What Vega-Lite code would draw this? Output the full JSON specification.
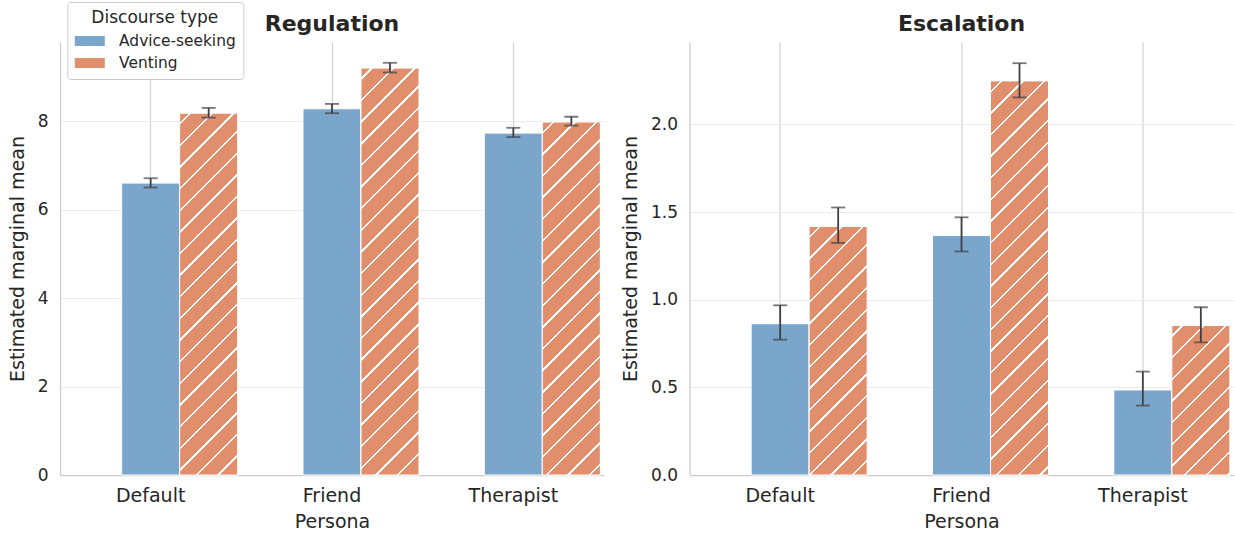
{
  "$schema": "https://vega.github.io/schema/vega-lite/v6.json",
  "background": "white",
  "padding": {"left": 8, "top": 1, "right": 0, "bottom": 0},
  "spacing": 16.5,
  "config": {"font": "DejaVu Sans", "view": {"stroke": null}},
  "params": [
    {"name": "hs", "value": [
      {"offset": 0, "color": "#e08e6b"},
      {"offset": 0.020, "color": "#e08e6b"}, {"offset": 0.020, "color": "#ffffff"}, {"offset": 0.025, "color": "#ffffff"}, {"offset": 0.025, "color": "#e08e6b"},
      {"offset": 0.065, "color": "#e08e6b"}, {"offset": 0.065, "color": "#ffffff"}, {"offset": 0.070, "color": "#ffffff"}, {"offset": 0.070, "color": "#e08e6b"},
      {"offset": 0.110, "color": "#e08e6b"}, {"offset": 0.110, "color": "#ffffff"}, {"offset": 0.115, "color": "#ffffff"}, {"offset": 0.115, "color": "#e08e6b"},
      {"offset": 0.155, "color": "#e08e6b"}, {"offset": 0.155, "color": "#ffffff"}, {"offset": 0.160, "color": "#ffffff"}, {"offset": 0.160, "color": "#e08e6b"},
      {"offset": 0.200, "color": "#e08e6b"}, {"offset": 0.200, "color": "#ffffff"}, {"offset": 0.205, "color": "#ffffff"}, {"offset": 0.205, "color": "#e08e6b"},
      {"offset": 0.245, "color": "#e08e6b"}, {"offset": 0.245, "color": "#ffffff"}, {"offset": 0.250, "color": "#ffffff"}, {"offset": 0.250, "color": "#e08e6b"},
      {"offset": 0.290, "color": "#e08e6b"}, {"offset": 0.290, "color": "#ffffff"}, {"offset": 0.295, "color": "#ffffff"}, {"offset": 0.295, "color": "#e08e6b"},
      {"offset": 0.335, "color": "#e08e6b"}, {"offset": 0.335, "color": "#ffffff"}, {"offset": 0.340, "color": "#ffffff"}, {"offset": 0.340, "color": "#e08e6b"},
      {"offset": 0.380, "color": "#e08e6b"}, {"offset": 0.380, "color": "#ffffff"}, {"offset": 0.385, "color": "#ffffff"}, {"offset": 0.385, "color": "#e08e6b"},
      {"offset": 0.425, "color": "#e08e6b"}, {"offset": 0.425, "color": "#ffffff"}, {"offset": 0.430, "color": "#ffffff"}, {"offset": 0.430, "color": "#e08e6b"},
      {"offset": 0.470, "color": "#e08e6b"}, {"offset": 0.470, "color": "#ffffff"}, {"offset": 0.475, "color": "#ffffff"}, {"offset": 0.475, "color": "#e08e6b"},
      {"offset": 0.515, "color": "#e08e6b"}, {"offset": 0.515, "color": "#ffffff"}, {"offset": 0.520, "color": "#ffffff"}, {"offset": 0.520, "color": "#e08e6b"},
      {"offset": 0.560, "color": "#e08e6b"}, {"offset": 0.560, "color": "#ffffff"}, {"offset": 0.565, "color": "#ffffff"}, {"offset": 0.565, "color": "#e08e6b"},
      {"offset": 0.605, "color": "#e08e6b"}, {"offset": 0.605, "color": "#ffffff"}, {"offset": 0.610, "color": "#ffffff"}, {"offset": 0.610, "color": "#e08e6b"},
      {"offset": 0.650, "color": "#e08e6b"}, {"offset": 0.650, "color": "#ffffff"}, {"offset": 0.655, "color": "#ffffff"}, {"offset": 0.655, "color": "#e08e6b"},
      {"offset": 0.695, "color": "#e08e6b"}, {"offset": 0.695, "color": "#ffffff"}, {"offset": 0.700, "color": "#ffffff"}, {"offset": 0.700, "color": "#e08e6b"},
      {"offset": 0.740, "color": "#e08e6b"}, {"offset": 0.740, "color": "#ffffff"}, {"offset": 0.745, "color": "#ffffff"}, {"offset": 0.745, "color": "#e08e6b"},
      {"offset": 0.785, "color": "#e08e6b"}, {"offset": 0.785, "color": "#ffffff"}, {"offset": 0.790, "color": "#ffffff"}, {"offset": 0.790, "color": "#e08e6b"},
      {"offset": 0.830, "color": "#e08e6b"}, {"offset": 0.830, "color": "#ffffff"}, {"offset": 0.835, "color": "#ffffff"}, {"offset": 0.835, "color": "#e08e6b"},
      {"offset": 0.875, "color": "#e08e6b"}, {"offset": 0.875, "color": "#ffffff"}, {"offset": 0.880, "color": "#ffffff"}, {"offset": 0.880, "color": "#e08e6b"},
      {"offset": 0.920, "color": "#e08e6b"}, {"offset": 0.920, "color": "#ffffff"}, {"offset": 0.925, "color": "#ffffff"}, {"offset": 0.925, "color": "#e08e6b"},
      {"offset": 0.965, "color": "#e08e6b"}, {"offset": 0.965, "color": "#ffffff"}, {"offset": 0.970, "color": "#ffffff"}, {"offset": 0.970, "color": "#e08e6b"},
      {"offset": 1, "color": "#e08e6b"}
    ]}
  ],
  "data": {"values": [
    {"metric": "Regulation", "persona": "Default", "type": "Advice-seeking", "mean": 6.60, "lo": 6.50, "hi": 6.71},
    {"metric": "Regulation", "persona": "Default", "type": "Venting", "mean": 8.18, "lo": 8.08, "hi": 8.30},
    {"metric": "Regulation", "persona": "Friend", "type": "Advice-seeking", "mean": 8.28, "lo": 8.18, "hi": 8.39},
    {"metric": "Regulation", "persona": "Friend", "type": "Venting", "mean": 9.20, "lo": 9.10, "hi": 9.32},
    {"metric": "Regulation", "persona": "Therapist", "type": "Advice-seeking", "mean": 7.73, "lo": 7.64, "hi": 7.85},
    {"metric": "Regulation", "persona": "Therapist", "type": "Venting", "mean": 7.98, "lo": 7.90, "hi": 8.10},
    {"metric": "Escalation", "persona": "Default", "type": "Advice-seeking", "mean": 0.863, "lo": 0.772, "hi": 0.968},
    {"metric": "Escalation", "persona": "Default", "type": "Venting", "mean": 1.418, "lo": 1.324, "hi": 1.526},
    {"metric": "Escalation", "persona": "Friend", "type": "Advice-seeking", "mean": 1.366, "lo": 1.275, "hi": 1.470},
    {"metric": "Escalation", "persona": "Friend", "type": "Venting", "mean": 2.248, "lo": 2.154, "hi": 2.349},
    {"metric": "Escalation", "persona": "Therapist", "type": "Advice-seeking", "mean": 0.485, "lo": 0.396, "hi": 0.590},
    {"metric": "Escalation", "persona": "Therapist", "type": "Venting", "mean": 0.853, "lo": 0.757, "hi": 0.957}
  ]},
  "hconcat": [
    {
      "width": 544, "height": 433,
      "title": {"text": "Regulation", "fontSize": 22, "fontWeight": "bold", "color": "#262626", "baseline": "alphabetic", "offset": -10.7, "anchor": "middle"},
      "transform": [{"filter": "datum.metric === 'Regulation'"}],
      "encoding": {
        "x": {"field": "persona", "type": "nominal", "sort": ["Default", "Friend", "Therapist"], "scale": {"paddingInner": 0, "paddingOuter": 0},
          "axis": {"title": "Persona", "labelAngle": 0, "grid": true, "gridColor": "#d0d0d0", "gridWidth": 1.2, "bandPosition": 0.5, "domainColor": "#cccccc", "domainWidth": 1.25, "ticks": false, "tickSize": 0, "labelFontSize": 19, "labelPadding": 11.7, "labelColor": "#262626", "titleFontSize": 19, "titleFontWeight": "normal", "titleColor": "#262626", "titlePadding": 7}},
        "xOffset": {"field": "type", "type": "nominal", "scale": {"domain": ["pad", "Advice-seeking", "Venting"], "paddingInner": 0, "paddingOuter": 0.0632}}
      },
      "layer": [
        {"mark": {"type": "bar", "stroke": "white", "strokeWidth": 1},
         "encoding": {
           "y": {"field": "mean", "type": "quantitative", "scale": {"domain": [0, 9.79], "nice": false},
             "axis": {"title": "Estimated marginal mean", "values": [0, 2, 4, 6, 8], "grid": true, "gridColor": "#ebebeb", "gridWidth": 1, "domainColor": "#cccccc", "domainWidth": 1.25, "ticks": false, "tickSize": 0, "labelFontSize": 17, "labelPadding": 12, "labelColor": "#262626", "titleFontSize": 19, "titleFontWeight": "normal", "titleColor": "#262626", "titlePadding": 10}},
           "color": {"field": "type", "type": "nominal", "scale": {"domain": ["Advice-seeking", "Venting"], "range": ["#7ba6cc", "#e08e6b"]},
             "legend": {"title": "Discourse type", "orient": "none", "legendX": 7.3, "legendY": -40, "titleFontSize": 17, "titleFontWeight": "normal", "titleAnchor": "middle", "titleColor": "#262626", "labelFontSize": 15.4, "labelColor": "#262626", "symbolType": "M-1,-0.5H2V0.5H-1Z", "symbolSize": 400, "symbolStrokeWidth": 0, "fillColor": "white", "strokeColor": "#cccccc", "padding": 7.5, "cornerRadius": 3, "rowPadding": 3, "titlePadding": 4.5, "labelOffset": 24.3,
               "encode": {"symbols": {"fill": {"value": {"expr": "datum.value === 'Venting' ? {gradient: 'linear', x1: 0, y1: 0, x2: 14.42, y2: 4.81, stops: hs} : '#7ba6cc'"}}}}}}
         }},
        {"transform": [{"filter": "datum.type === 'Venting'"}],
         "mark": {"type": "bar", "stroke": "white", "strokeWidth": 1},
         "encoding": {
           "y": {"field": "mean", "type": "quantitative", "scale": {"domain": [0, 9.79], "nice": false}},
           "fill": {"value": {"expr": "{gradient: 'linear', x1: 0, y1: 0, x2: 480.8*58/(3364+pow(datum.mean*44.23,2)), y2: 480.8*datum.mean*44.23/(3364+pow(datum.mean*44.23,2)), stops: hs}"}}
         }},
        {"mark": {"type": "rule", "color": "#404040", "strokeWidth": 1.8},
         "encoding": {
           "y": {"field": "lo", "type": "quantitative", "scale": {"domain": [0, 9.79], "nice": false}},
           "y2": {"field": "hi"}
         }},
        {"mark": {"type": "tick", "color": "#404040", "thickness": 1.8, "size": 14},
         "encoding": {"y": {"field": "lo", "type": "quantitative", "scale": {"domain": [0, 9.79], "nice": false}}}},
        {"mark": {"type": "tick", "color": "#404040", "thickness": 1.8, "size": 14},
         "encoding": {"y": {"field": "hi", "type": "quantitative", "scale": {"domain": [0, 9.79], "nice": false}}}}
      ]
    },
    {
      "width": 544, "height": 433,
      "title": {"text": "Escalation", "fontSize": 22, "fontWeight": "bold", "color": "#262626", "baseline": "alphabetic", "offset": -10.7, "anchor": "middle"},
      "transform": [{"filter": "datum.metric === 'Escalation'"}],
      "encoding": {
        "x": {"field": "persona", "type": "nominal", "sort": ["Default", "Friend", "Therapist"], "scale": {"paddingInner": 0, "paddingOuter": 0},
          "axis": {"title": "Persona", "labelAngle": 0, "grid": true, "gridColor": "#d0d0d0", "gridWidth": 1.2, "bandPosition": 0.5, "domainColor": "#cccccc", "domainWidth": 1.25, "ticks": false, "tickSize": 0, "labelFontSize": 19, "labelPadding": 11.7, "labelColor": "#262626", "titleFontSize": 19, "titleFontWeight": "normal", "titleColor": "#262626", "titlePadding": 7}},
        "xOffset": {"field": "type", "type": "nominal", "scale": {"domain": ["pad", "Advice-seeking", "Venting"], "paddingInner": 0, "paddingOuter": 0.0632}}
      },
      "layer": [
        {"mark": {"type": "bar", "stroke": "white", "strokeWidth": 1},
         "encoding": {
           "y": {"field": "mean", "type": "quantitative", "scale": {"domain": [0, 2.47], "nice": false},
             "axis": {"title": "Estimated marginal mean", "values": [0, 0.5, 1, 1.5, 2], "format": ".1f", "grid": true, "gridColor": "#ebebeb", "gridWidth": 1, "domainColor": "#cccccc", "domainWidth": 1.25, "ticks": false, "tickSize": 0, "labelFontSize": 17, "labelPadding": 12, "labelColor": "#262626", "titleFontSize": 19, "titleFontWeight": "normal", "titleColor": "#262626", "titlePadding": 10}},
           "color": {"field": "type", "type": "nominal", "scale": {"domain": ["Advice-seeking", "Venting"], "range": ["#7ba6cc", "#e08e6b"]},
             "legend": {"title": "Discourse type", "orient": "none", "legendX": 7.3, "legendY": -40, "titleFontSize": 17, "titleFontWeight": "normal", "titleAnchor": "middle", "titleColor": "#262626", "labelFontSize": 15.4, "labelColor": "#262626", "symbolType": "M-1,-0.5H2V0.5H-1Z", "symbolSize": 400, "symbolStrokeWidth": 0, "fillColor": "white", "strokeColor": "#cccccc", "padding": 7.5, "cornerRadius": 3, "rowPadding": 3, "titlePadding": 4.5, "labelOffset": 24.3,
               "encode": {"symbols": {"fill": {"value": {"expr": "datum.value === 'Venting' ? {gradient: 'linear', x1: 0, y1: 0, x2: 14.42, y2: 4.81, stops: hs} : '#7ba6cc'"}}}}}}
         }},
        {"transform": [{"filter": "datum.type === 'Venting'"}],
         "mark": {"type": "bar", "stroke": "white", "strokeWidth": 1},
         "encoding": {
           "y": {"field": "mean", "type": "quantitative", "scale": {"domain": [0, 2.47], "nice": false}},
           "fill": {"value": {"expr": "{gradient: 'linear', x1: 0, y1: 0, x2: 480.8*58/(3364+pow(datum.mean*175.3,2)), y2: 480.8*datum.mean*175.3/(3364+pow(datum.mean*175.3,2)), stops: hs}"}}
         }},
        {"mark": {"type": "rule", "color": "#404040", "strokeWidth": 1.8},
         "encoding": {
           "y": {"field": "lo", "type": "quantitative", "scale": {"domain": [0, 2.47], "nice": false}},
           "y2": {"field": "hi"}
         }},
        {"mark": {"type": "tick", "color": "#404040", "thickness": 1.8, "size": 14},
         "encoding": {"y": {"field": "lo", "type": "quantitative", "scale": {"domain": [0, 2.47], "nice": false}}}},
        {"mark": {"type": "tick", "color": "#404040", "thickness": 1.8, "size": 14},
         "encoding": {"y": {"field": "hi", "type": "quantitative", "scale": {"domain": [0, 2.47], "nice": false}}}}
      ]
    }
  ]
}
